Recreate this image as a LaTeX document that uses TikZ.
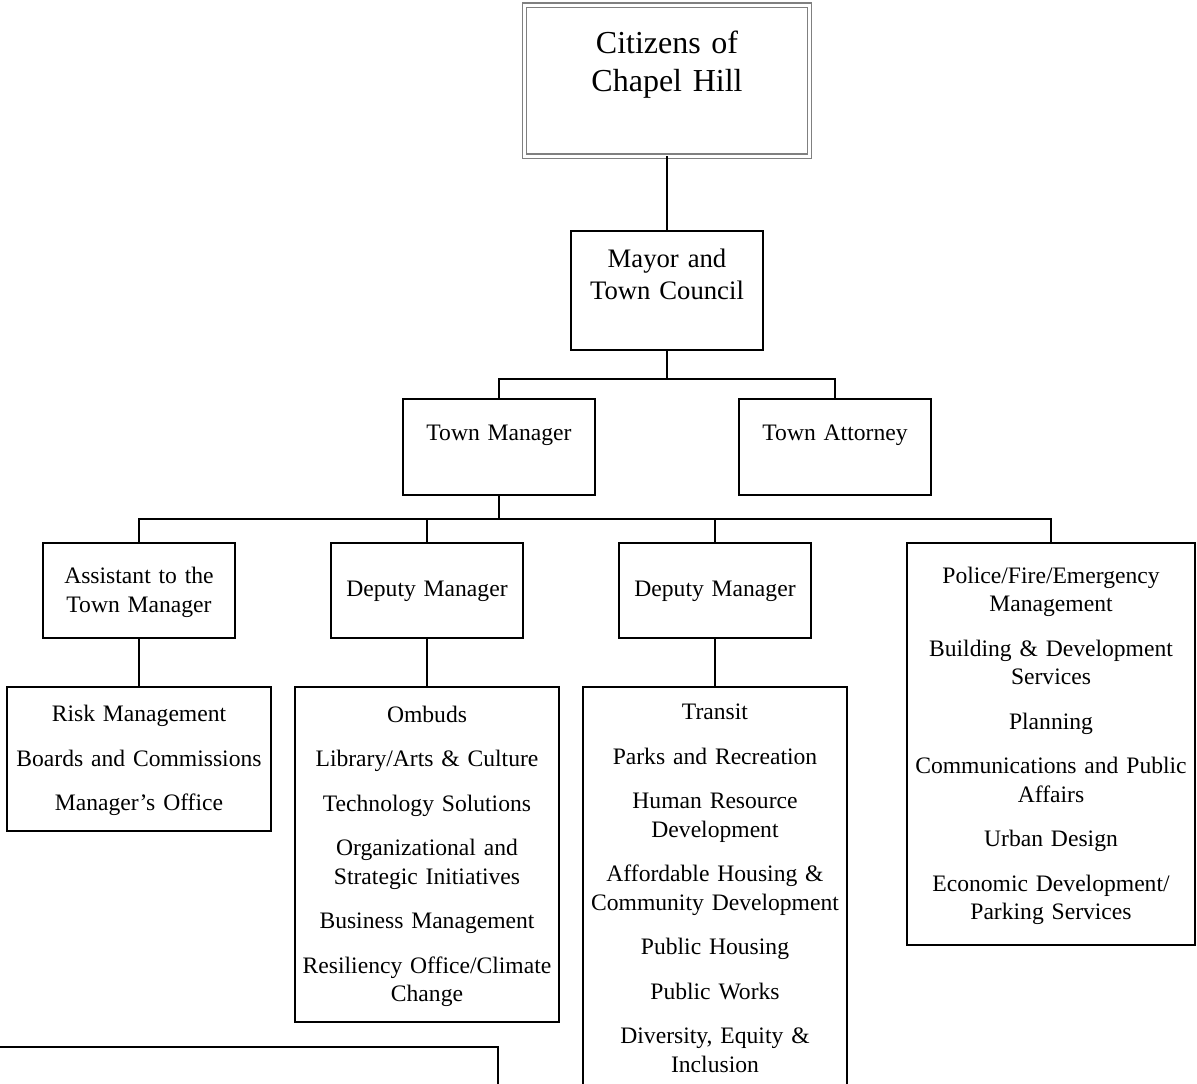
\documentclass[tikz,border=0pt]{standalone}
\usepackage{fontspec}
\setmainfont{Liberation Serif}
\usepackage{tikz}
\usetikzlibrary{positioning}
\tikzstyle{block} = [rectangle, draw, line width=1.5pt, inner sep=0pt, outer sep=0pt,
align=center, font=\fontsize{23.6}{28.5}\selectfont, execute at begin node=\strut]
\tikzstyle{line} = [draw, line width=1.5pt]

\begin{document}
\begin{tikzpicture}[x=1pt, y=1pt]
\useasboundingbox (0,0) rectangle (1197,-1084);
\clip (0,0) rectangle (1197,-1084);
    % nodes
\node [block, draw=black!50, line width=1.2pt, double, double distance=3pt, text width=270pt, minimum width=285pt,
  text height=48pt, text depth=103pt, font=\fontsize{32}{38}\selectfont] (citz) at (667,-80.5) {Citizens of\\Chapel Hill};
\node [block, text width=185pt, minimum width=192pt, text height=36pt, text depth=83pt,
  font=\fontsize{26.7}{32}\selectfont, below=75pt of citz] (mayor) {Mayor and\\Town Council};
\node [block, text width=185pt, minimum width=192pt, text height=41pt, text depth=55pt, below=49pt of mayor, xshift=-168pt] (tm) {Town Manager};
\node [block, text width=185pt, minimum width=192pt, text height=41pt, text depth=55pt, below=49pt of mayor, xshift=168pt] (ta) {Town Attorney};
\node [block, text width=185pt, minimum width=192pt, minimum height=95pt, below=48pt of tm, xshift=-360pt] (asst) {Assistant to the\\Town Manager};
\node [block, text width=185pt, minimum width=192pt, minimum height=95pt, below=48pt of tm, xshift=-72pt] (dep1) {Deputy Manager};
\node [block, text width=185pt, minimum width=192pt, minimum height=95pt, below=48pt of tm, xshift=216pt] (dep2) {Deputy Manager};
\node [block, text width=282pt, minimum width=288pt, minimum height=402pt, below=48pt of tm, xshift=552pt] (police)
  {Police/Fire/Emergency\\Management\\[16pt]Building \& Development\\Services\\[16pt]Planning\\[16pt]Communications and Public\\Affairs\\[16pt]Urban Design\\[16pt]Economic Development/\\Parking Services};
\node [block, text width=258pt, minimum width=264pt, minimum height=144pt, below=49pt of asst] (risk)
  {Risk Management\\[16pt]Boards and Commissions\\[16pt]Manager’s Office};
\node [block, text width=258pt, minimum width=264pt, minimum height=335pt, below=49pt of dep1] (ombuds)
  {Ombuds\\[16pt]Library/Arts \& Culture\\[16pt]Technology Solutions\\[16pt]Organizational and\\Strategic Initiatives\\[16pt]Business Management\\[16pt]Resiliency Office/Climate\\Change};
\node [block, text width=258pt, minimum width=264pt, minimum height=398pt, below=49pt of dep2] (transit)
  {Transit\\[16pt]Parks and Recreation\\[16pt]Human Resource\\Development\\[16pt]Affordable Housing \&\\Community Development\\[16pt]Public Housing\\[16pt]Public Works\\[16pt]Diversity, Equity \&\\Inclusion};
\node [block, minimum width=520pt, minimum height=100pt, anchor=north east] (notes) at (498,-1047) {};

%edges
\draw [line] (citz) -- (mayor);
\draw [line] (mayor.south) -- ++(0,-29) -| (tm.north);
\draw [line] (mayor.south) -- ++(0,-29) -| (ta.north);
\draw [line] (tm.south) -- ++(0,-24) -| (asst.north);
\draw [line] (tm.south) -- ++(0,-24) -| (dep1.north);
\draw [line] (tm.south) -- ++(0,-24) -| (dep2.north);
\draw [line] (tm.south) -- ++(0,-24) -| (police.north);
\draw [line] (asst) -- (risk);
\draw [line] (dep1) -- (ombuds);
\draw [line] (dep2) -- (transit);

\end{tikzpicture}
\end{document}
